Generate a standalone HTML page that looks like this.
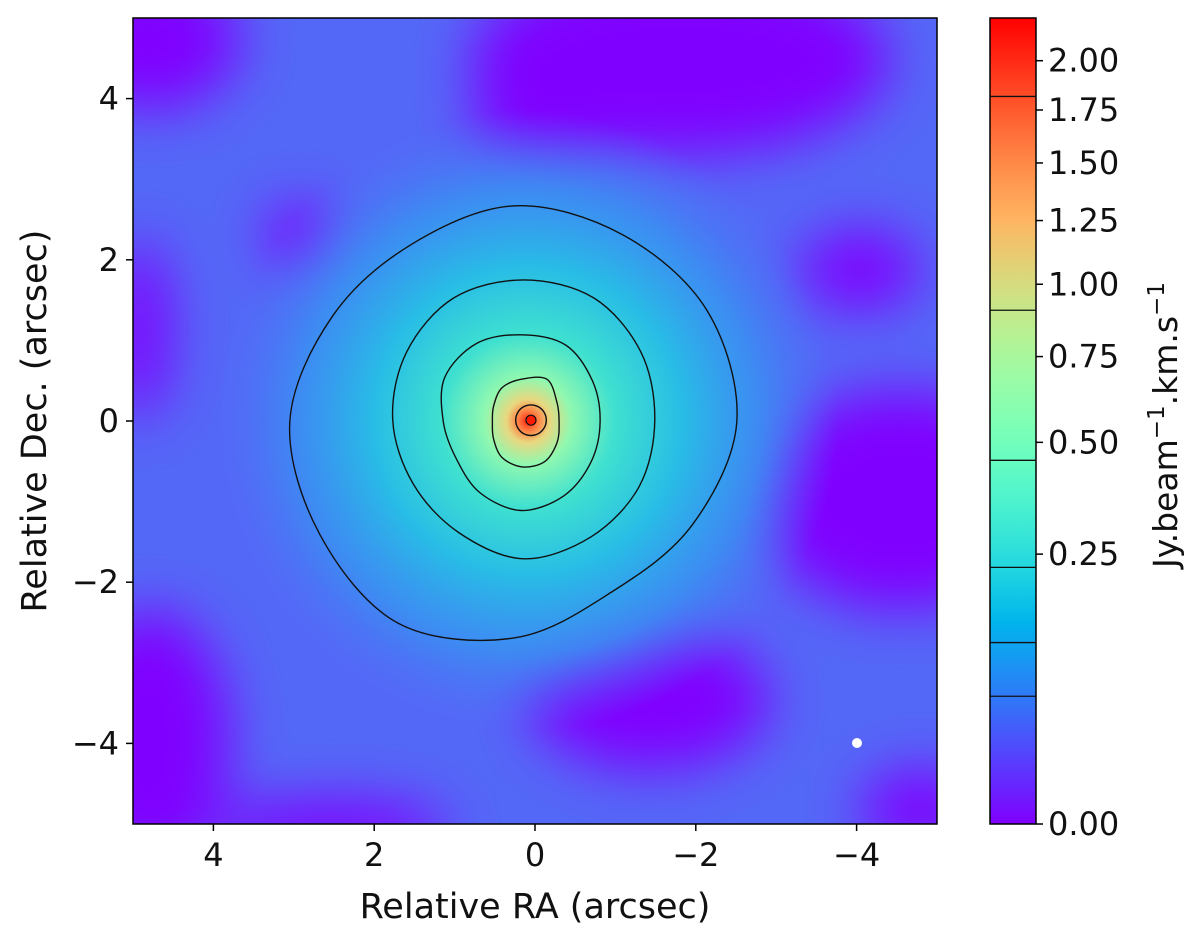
<!DOCTYPE html>
<html><head><meta charset="utf-8"><style>
html,body{margin:0;padding:0;background:#fff;}
svg{display:block;font-family:"DejaVu Sans","Liberation Sans",sans-serif;}
</style></head><body>
<svg id="chart" width="1200" height="941" viewBox="0 0 1200 941">
<defs>
  <clipPath id="plotclip"><rect x="133" y="18" width="804" height="806"/></clipPath>
  <filter id="blur30" x="-50%" y="-50%" width="200%" height="200%"><feGaussianBlur stdDeviation="28"/></filter>
  <radialGradient id="glow" cx="528" cy="421" r="310" gradientUnits="userSpaceOnUse">
    <stop offset="0" stop-color="#ff2010"/>
    <stop offset="0.03" stop-color="#ff7a40"/>
    <stop offset="0.07" stop-color="#e8d880"/>
    <stop offset="0.14" stop-color="#90f8b0"/>
    <stop offset="0.28" stop-color="#3fe0d0"/>
    <stop offset="0.5" stop-color="#28bce6"/>
    <stop offset="0.75" stop-color="#3a90f2" stop-opacity="0.85"/>
    <stop offset="1" stop-color="#4a74f5" stop-opacity="0"/>
  </radialGradient>
  <linearGradient id="cbgrad" x1="0" y1="1" x2="0" y2="0"></linearGradient>
</defs>
<g id="plot" clip-path="url(#plotclip)">
  <rect x="133" y="18" width="804" height="806" fill="#5468f7"/>
  <g filter="url(#blur30)" fill="#8000ff">
    <ellipse cx="680" cy="60" rx="210" ry="95"/>
    <ellipse cx="150" cy="40" rx="90" ry="70"/>
    <ellipse cx="900" cy="500" rx="140" ry="110"/>
    <ellipse cx="860" cy="270" rx="60" ry="40"/>
    <ellipse cx="150" cy="740" rx="80" ry="130"/>
    <ellipse cx="650" cy="700" rx="120" ry="70"/>
    <ellipse cx="920" cy="810" rx="60" ry="40"/>
    <ellipse cx="330" cy="830" rx="120" ry="30"/>
    <ellipse cx="140" cy="330" rx="30" ry="90"/>
    <ellipse cx="560" cy="120" rx="90" ry="40"/>
    <ellipse cx="300" cy="235" rx="35" ry="30"/>
  </g>
  <rect x="133" y="18" width="804" height="806" fill="url(#glow)"/>
  <g id="contours"></g>
  <circle cx="857" cy="743" r="5" fill="#fff"/>
</g>
<rect x="133" y="18" width="804" height="806" fill="none" stroke="#000" stroke-width="1.5"/>
<g id="axes" font-size="32" fill="#111"></g>
<text x="535" y="918" font-size="35" text-anchor="middle" fill="#111">Relative RA (arcsec)</text>
<text transform="translate(46,421) rotate(-90)" font-size="35" text-anchor="middle" fill="#111">Relative Dec. (arcsec)</text>
<g id="colorbar"></g>
<text transform="translate(1177,425) rotate(-90)" font-size="33" text-anchor="middle" fill="#111">Jy.beam<tspan dy="-13" font-size="23">−1</tspan><tspan dy="13">.km.s</tspan><tspan dy="-13" font-size="23">−1</tspan></text>
</svg>
<script>
const NS="http://www.w3.org/2000/svg";
const xTicks=[4,2,0,-2,-4];
const yTicks=[4,2,0,-2,-4];
const cbTicks=[0,0.25,0.5,0.75,1.0,1.25,1.5,1.75,2.0];
const cbMax=2.23;
const contourLevels=[0.056,0.113,0.226,0.454,0.906,1.817];
const contourAngles=[0,30,60,90,120,150,180,210,240,270,300,330];
const contourCenterRA=[0.25,0.14,0.17,0.16,0.05];
const contourCenterDec=[-0.01,0.02,-0.01,-0.02,0.01];
const contourRadius1=[2.76,2.76,2.68,2.68,2.55,2.62,2.80,2.80,2.89,2.68,2.43,2.55];
const contourRadius2=[1.63,1.68,1.74,1.73,1.74,1.68,1.63,1.59,1.62,1.73,1.68,1.66];
const contourRadius3=[0.98,1.02,1.10,1.08,1.12,1.10,0.97,0.93,1.02,1.10,1.06,1.00];
const contourRadius4=[0.46,0.50,0.62,0.54,0.50,0.41,0.37,0.41,0.50,0.55,0.56,0.50];
const contourRadius5=[0.19,0.19,0.19,0.19,0.19,0.19,0.19,0.19,0.19,0.19,0.19,0.19];
const contourRadii=[contourRadius1,contourRadius2,contourRadius3,contourRadius4,contourRadius5];

const X0=133,X1=937,Y0=18,Y1=824;
const xScale=v=>X0+(5-v)/10*(X1-X0);
const yScale=v=>Y0+(5-v)/10*(Y1-Y0);
const CB0=990,CB1=1036;
const cbScale=v=>Y1-Math.sqrt(v/cbMax)*(Y1-Y0);

function mk(tag,attrs,parent){const e=document.createElementNS(NS,tag);for(const k in attrs)e.setAttribute(k,attrs[k]);parent.appendChild(e);return e;}
const axes=document.getElementById('axes');
xTicks.forEach(t=>{
  const x=xScale(t);
  const l=mk('line',{x1:x,x2:x,y1:Y1,y2:Y1+7,stroke:'#000','stroke-width':1.5},axes);
  
  
  const tx=mk('text',{x:x,y:Y1+42,'text-anchor':'middle'},axes);
  tx.textContent=t<0?'\u2212'+(-t):String(t);
  
  
});
yTicks.forEach(t=>{
  const y=yScale(t);
  const l=mk('line',{x1:X0-7,x2:X0,y1:y,y2:y,stroke:'#000','stroke-width':1.5},axes);
  
  
  const tx=mk('text',{x:X0-14,y:y+11,'text-anchor':'end'},axes);
  tx.textContent=t<0?'\u2212'+(-t):String(t);
  
  
});
const cg=document.getElementById('contours');
function smoothPath(pts){
  const n=pts.length;let d=`M${pts[0][0].toFixed(1)},${pts[0][1].toFixed(1)}`;
  for(let i=0;i<n;i++){
    const p0=pts[(i-1+n)%n],p1=pts[i],p2=pts[(i+1)%n],p3=pts[(i+2)%n];
    const c1=[p1[0]+(p2[0]-p0[0])/6,p1[1]+(p2[1]-p0[1])/6];
    const c2=[p2[0]-(p3[0]-p1[0])/6,p2[1]-(p3[1]-p1[1])/6];
    d+=`C${c1[0].toFixed(1)},${c1[1].toFixed(1)} ${c2[0].toFixed(1)},${c2[1].toFixed(1)} ${p2[0].toFixed(1)},${p2[1].toFixed(1)}`;
  }
  return d+'Z';
}
contourRadii.forEach((radii,k)=>{
  const pts=radii.map((r,i)=>{
    const a=contourAngles[i]*Math.PI/180;
    return [xScale(contourCenterRA[k]-r*Math.cos(a)),yScale(contourCenterDec[k]+r*Math.sin(a))];
  });
  const p=mk('path',{d:smoothPath(pts),fill:'none',stroke:'#111','stroke-width':1.4},cg);
  
  
});
const core=mk('circle',{cx:xScale(0.05),cy:yScale(0.01),r:5,fill:'#ff1a00',stroke:'#111','stroke-width':1.2},cg);


const cb=document.getElementById('colorbar');
const grad=document.getElementById('cbgrad');
for(let i=0;i<=20;i++){
  const x=i/20;
  const r=Math.min(1,Math.abs(2*x-0.5)),g=Math.sin(Math.PI*x),b=Math.cos(Math.PI*x/2);
  mk('stop',{offset:x,'stop-color':`rgb(${Math.round(r*255)},${Math.round(g*255)},${Math.round(b*255)})`},grad);
}
const bar=mk('rect',{x:CB0,y:Y0,width:CB1-CB0,height:Y1-Y0,fill:'url(#cbgrad)'},cb);


contourLevels.forEach(v=>{
  const y=cbScale(v);
  const l=mk('line',{x1:CB0,x2:CB1,y1:y,y2:y,stroke:'#111','stroke-width':1.3},cb);
  
  
});
const fr=mk('rect',{x:CB0,y:Y0,width:CB1-CB0,height:Y1-Y0,fill:'none',stroke:'#000','stroke-width':1.5},cb);


cbTicks.forEach(v=>{
  const y=cbScale(v);
  const l=mk('line',{x1:CB1,x2:CB1+7,y1:y,y2:y,stroke:'#000','stroke-width':1.5},cb);
  
  
  const t=mk('text',{x:CB1+12,y:y+11,'font-size':32,fill:'#111'},cb);
  t.textContent=v.toFixed(2);
  
  
});
</script>
</body></html>
